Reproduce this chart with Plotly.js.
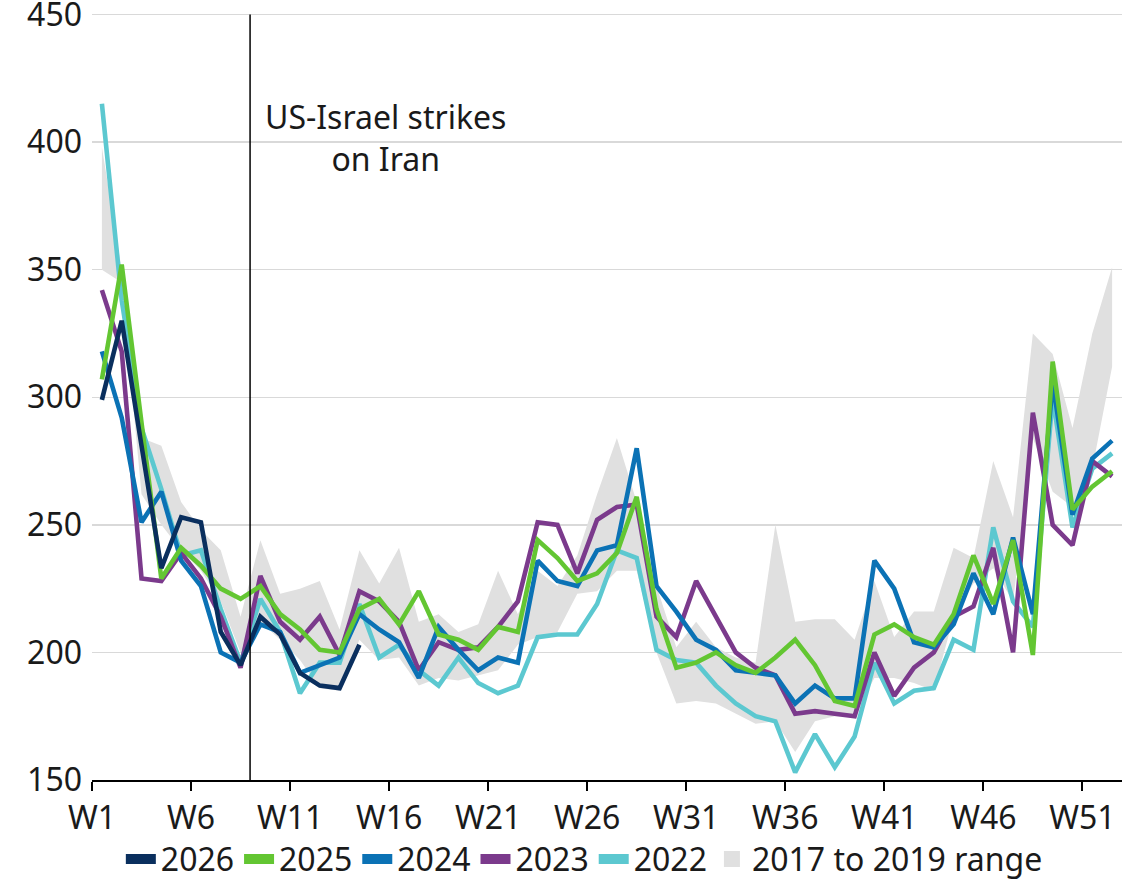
<!DOCTYPE html>
<html>
<head>
<meta charset="utf-8">
<script src="https://cdn.plot.ly/plotly-3.0.1.min.js"></script>
<style>html,body{margin:0;padding:0;background:#fff;}#chart{width:1128px;height:879px;}</style>
</head>
<body>
<div id="chart"></div>
<script>
const weeks = [1,2,3,4,5,6,7,8,9,10,11,12,13,14,15,16,17,18,19,20,21,22,23,24,25,26,27,28,29,30,31,32,33,34,35,36,37,38,39,40,41,42,43,44,45,46,47,48,49,50,51,52];
const tickLabels = ["W1","W6","W11","W16","W21","W26","W31","W36","W41","W46","W51"];
const tickPositions = [0.5,5.5,10.5,15.5,20.5,25.5,30.5,35.5,40.5,45.5,50.5];
const yTicks = [150,200,250,300,350,400,450];

const y2026 = [299,330,281,233,253,251,208,195,214,207,192,187,186,203];
const y2025 = [307,352,290,229,241,234,225,221,226,215,209,201,200,217,221,211,224,207,205,201,210,208,244,237,228,231,239,261,217,194,196,200,195,192,198,205,195,181,179,207,211,206,203,215,238,219,244,199,314,256,265,271];
const y2024 = [318,292,251,263,236,226,200,196,211,208,192,195,198,215,209,204,190,210,201,193,198,196,236,228,226,240,242,280,226,216,205,201,193,192,191,180,187,182,182,236,225,204,202,211,231,215,245,215,306,254,276,283];
const y2023 = [342,318,229,228,239,229,214,194,230,212,205,214,199,224,220,212,193,204,201,202,210,220,251,250,231,252,257,258,214,206,228,214,200,194,191,176,177,176,175,200,183,194,200,214,218,241,200,294,250,242,275,269];
const y2022 = [415,338,288,264,238,240,217,196,221,208,184,196,196,219,198,203,193,187,198,188,184,187,206,207,207,219,240,237,201,197,196,187,180,175,173,153,168,155,167,196,180,185,186,205,201,249,220,210,300,249,272,278];
const rangeMax = [398,350,284,281,259,248,240,214,244,223,225,228,209,240,227,241,212,215,208,211,232,215,232,226,238,262,284,259,226,202,212,202,198,196,250,212,213,213,205,228,206,216,216,241,237,275,253,325,317,288,325,351];
const rangeMin = [350,345,262,250,240,232,220,200,212,205,197,186,185,205,197,198,187,190,189,191,193,203,206,208,223,224,232,232,200,180,181,180,176,172,173,161,173,175,175,190,190,188,185,214,227,233,220,284,263,257,272,312];

const seriesNames = ["2026","2025","2024","2023","2022"];
const seriesColors = {"2026":"#0a2f5e","2025":"#63c632","2024":"#0b72b5","2023":"#7b3a8c","2022":"#5cc8d0"};
const seriesData = {"2026":y2026,"2025":y2025,"2024":y2024,"2023":y2023,"2022":y2022};
const rangeName = "2017 to 2019 range";
const rangeColor = "#e0e0e0";
const eventLabel = "US-Israel strikes<br>on Iran";
const eventWeek = 8.48;

const traces = [];
traces.push({x:weeks, y:rangeMax, type:'scatter', mode:'lines', line:{width:0, color:rangeColor}, showlegend:false, hoverinfo:'skip'});
traces.push({x:weeks, y:rangeMin, type:'scatter', mode:'lines', line:{width:0, color:rangeColor}, fill:'tonexty', fillcolor:rangeColor, name:rangeName, showlegend:false});
["2022","2023","2024","2025","2026"].forEach(function(n){
  const ys = seriesData[n];
  traces.push({x:weeks.slice(0, ys.length), y:ys, type:'scatter', mode:'lines', name:n, line:{color:seriesColors[n], width:4.6}, showlegend:false});
});
seriesNames.forEach(function(n, i){
  traces.push({x:[null], y:[null], type:'scatter', mode:'lines', name:n, line:{color:seriesColors[n], width:10}, showlegend:true, legendrank:i+1});
});
traces.push({x:[null], y:[null], type:'scatter', mode:'markers', name:rangeName, marker:{symbol:'square', size:20, color:rangeColor}, showlegend:true, legendrank:6});

const layout = {
  width:1128, height:879,
  margin:{l:92, r:6, t:12, b:99, autoexpand:false},
  paper_bgcolor:'#ffffff', plot_bgcolor:'#ffffff',
  font:{family:'"Noto Sans", sans-serif', size:32, color:'#1a1a1a'},
  showlegend:true,
  legend:{orientation:'h', x:0.478, xanchor:'center', y:-0.103, yanchor:'middle', font:{size:32, color:'#1a1a1a'}, traceorder:'normal', itemwidth:30, tracegroupgap:0},
  xaxis:{range:[0.5,52.5], tickmode:'array', tickvals:tickPositions, ticktext:tickLabels, ticks:'outside', ticklen:9, tickwidth:2, tickcolor:'#000', showline:true, linecolor:'#000', linewidth:2, showgrid:false, zeroline:false, tickfont:{size:32}, fixedrange:true},
  yaxis:{range:[150,451], tickmode:'array', tickvals:yTicks, showgrid:true, gridcolor:'#d9d9d9', gridwidth:1.5, zeroline:false, showline:false, ticks:'', tickfont:{size:32}, ticklabelstandoff:9, ticklabeloverflow:'allow', fixedrange:true},
  shapes:[{type:'line', xref:'x', yref:'paper', x0:eventWeek, x1:eventWeek, y0:0, y1:(450-150)/(451-150), line:{color:'#000', width:1.5}}],
  annotations:[{x:15.3, y:402, xref:'x', yref:'y', text:eventLabel, showarrow:false, font:{size:32, color:'#1a1a1a'}, align:'center', xanchor:'center', yanchor:'middle'}]
};
Plotly.newPlot('chart', traces, layout, {staticPlot:true, displayModeBar:false});
</script>
</body>
</html>
